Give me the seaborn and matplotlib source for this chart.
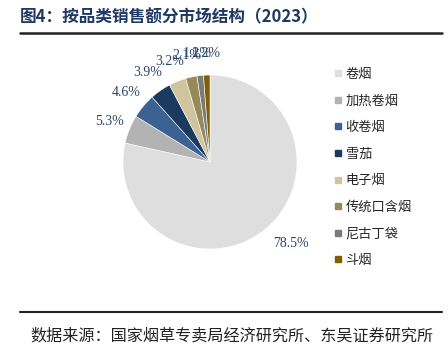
import matplotlib
matplotlib.use('Agg')
import matplotlib.pyplot as plt
import seaborn as sns
import numpy as np
from matplotlib.lines import Line2D

# 数据
categories = ['卷烟', '加热卷烟', '收卷烟', '雪茄', '电子烟', '传统口含烟', '尼古丁袋', '斗烟']
shares = [78.5, 5.3, 4.6, 3.9, 3.2, 2.1, 1.2, 1.2]
colors = ['#DEDEDE', '#B3B3B3', '#3C6294', '#1B3A5F', '#CFC49E', '#968B58', '#7A7A7A', '#7F5F00']

sns.set_theme(style='white')
plt.rcParams['font.family'] = ['Noto Sans CJK SC', 'DejaVu Sans']

fig = plt.figure(figsize=(4.48, 3.6), dpi=100)

# 饼图
ax = fig.add_axes([0.226, 0.248, 0.4855, 0.604])
wedges, texts, autotexts = ax.pie(
    shares, colors=sns.color_palette(colors), startangle=90, counterclock=False,
    autopct='%.1f%%', pctdistance=1.25,
    wedgeprops=dict(edgecolor='white', linewidth=0.4),
    textprops=dict(color='#2B4468', fontsize=10, family=['Liberation Serif']))
ax.set_xlim(-1.25, 1.25)
ax.set_ylim(-1.25, 1.25)
ax.set_aspect('equal')

# 最大扇区标签稍向外
w0 = wedges[0]
ang = np.deg2rad((w0.theta1 + w0.theta2) / 2 + 6)
autotexts[0].set_position((1.32 * np.cos(ang), 1.32 * np.sin(ang)))

# 图例
handles = [Line2D([0], [0], marker='s', linestyle='', markersize=5,
                  markerfacecolor=c, markeredgecolor=c) for c in colors]
fig.legend(handles, categories, loc='upper left', bbox_to_anchor=(0.73, 0.83),
           frameon=False, fontsize=9.5, handlelength=0.6, handletextpad=0.3,
           labelspacing=1.03, borderpad=0)

# 标题与来源
fig.text(0.045, 0.953, '图4：按品类销售额分市场结构（2023）', fontsize=12,
         fontweight='bold', color='#1F3864', va='center', ha='left')
fig.add_artist(Line2D([0.045, 0.987], [0.908, 0.908], color='#222222', linewidth=1.8))
fig.add_artist(Line2D([0.045, 0.987], [0.133, 0.133], color='#222222', linewidth=1.5))
fig.text(0.067, 0.067, '数据来源：国家烟草专卖局经济研究所、东吴证券研究所', fontsize=11.6,
         color='#222222', va='center', ha='left')

plt.savefig('out.png', dpi=100)
